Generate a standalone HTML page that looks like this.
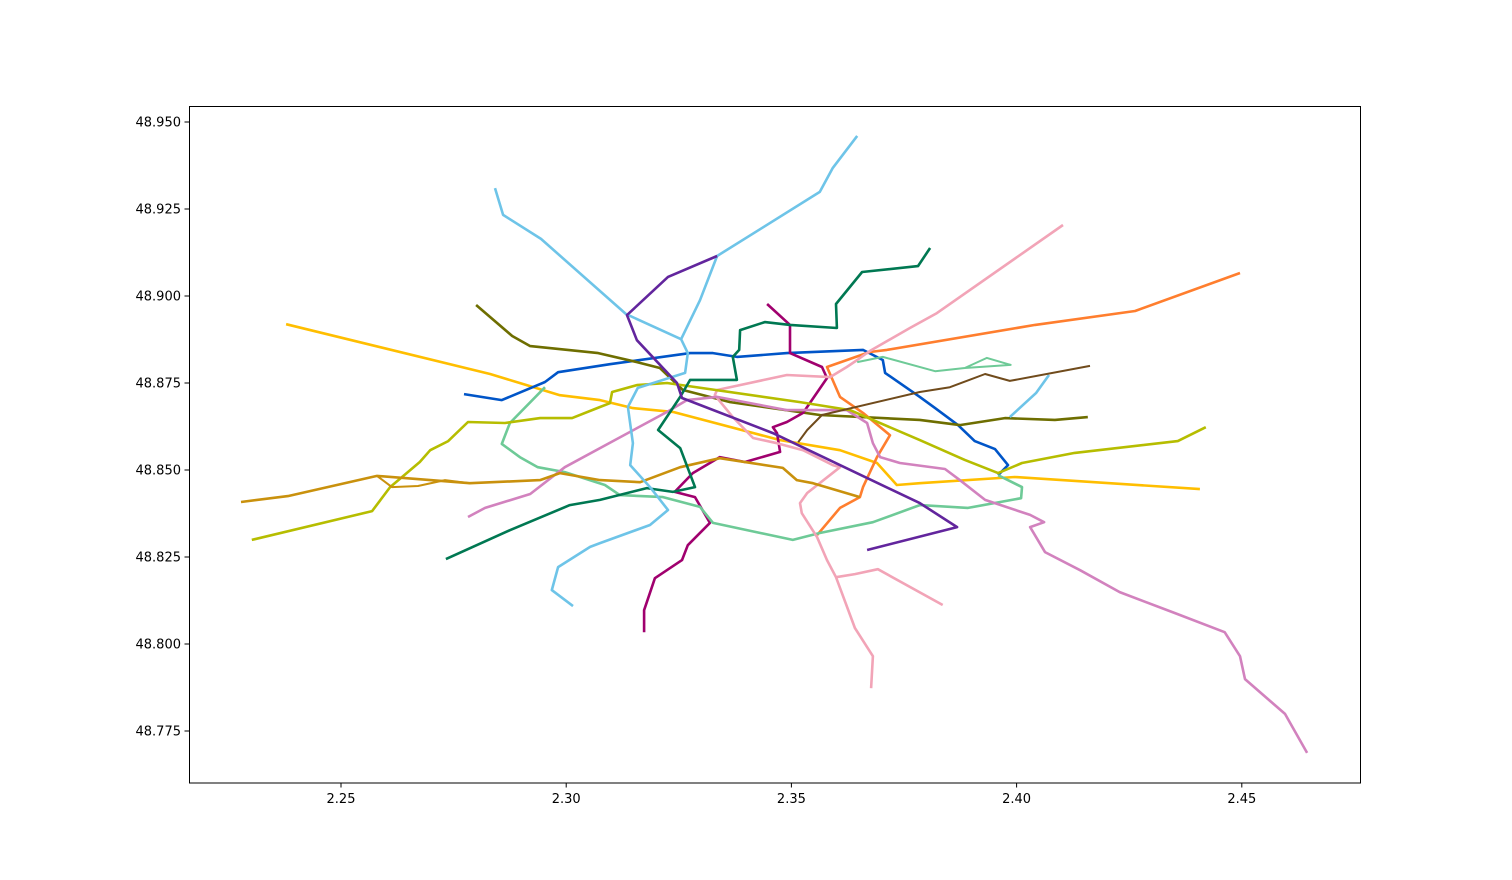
<!DOCTYPE html>
<html><head><meta charset="utf-8"><style>
html,body{margin:0;padding:0;background:#fff;}
svg{display:block;font-family:"DejaVu Sans","Liberation Sans",sans-serif;}
</style></head><body>
<svg id="chart" width="1512" height="880" viewBox="0 0 1512 880" xmlns="http://www.w3.org/2000/svg">
<rect x="0" y="0" width="1512" height="880" fill="#fff"/>
<g id="lines"></g>
<rect x="189.5" y="106.5" width="1171" height="676.5" fill="none" stroke="#000" stroke-width="1"/>
<g id="xaxis"></g>
<g id="yaxis"></g>
</svg>
<script>
const xTicks = [2.25, 2.30, 2.35, 2.40, 2.45];
const xTickLabels = ["2.25", "2.30", "2.35", "2.40", "2.45"];
const yTicks = [48.775, 48.800, 48.825, 48.850, 48.875, 48.900, 48.925, 48.950];
const yTickLabels = ["48.775", "48.800", "48.825", "48.850", "48.875", "48.900", "48.925", "48.950"];

const line1Lon = [2.2378,2.2831,2.2986,2.3075,2.3148,2.3237,2.3475,2.3608,2.3690,2.3734,2.3785,2.3996,2.4407];
const line1Lat = [48.8919,48.8776,48.8715,48.8701,48.8678,48.8667,48.8586,48.8557,48.8520,48.8457,48.8462,48.8480,48.8445];
const line2Lon = [2.2773,2.2857,2.2953,2.2982,2.3097,2.3275,2.3326,2.3379,2.3490,2.3659,2.3703,2.3708,2.3785,2.3819,2.3870,2.3907,2.3952,2.3981,2.3959];
const line2Lat = [48.8718,48.8701,48.8753,48.8781,48.8804,48.8836,48.8836,48.8825,48.8836,48.8845,48.8816,48.8779,48.8710,48.8678,48.8629,48.8583,48.8560,48.8514,48.8485];
const line3Lon = [2.2800,2.2880,2.2920,2.3071,2.3157,2.3208,2.3259,2.3364,2.3563,2.3785,2.3874,2.3974,2.4085,2.4158];
const line3Lat = [48.8974,48.8885,48.8856,48.8836,48.8810,48.8793,48.8730,48.8695,48.8658,48.8644,48.8629,48.8649,48.8644,48.8652];
const line3bisLon = [2.3985,2.4043,2.4072];
const line3bisLat = [48.8652,48.8721,48.8773];
const line4Lon = [2.3446,2.3497,2.3497,2.3568,2.3579,2.3526,2.3490,2.3459,2.3468,2.3475,2.3397,2.3341,2.3281,2.3241,2.3286,2.3319,2.3270,2.3257,2.3197,2.3173,2.3173];
const line4Lat = [48.8977,48.8917,48.8836,48.8796,48.8764,48.8664,48.8638,48.8623,48.8606,48.8552,48.8523,48.8537,48.8491,48.8437,48.8422,48.8348,48.8284,48.8241,48.8189,48.8097,48.8034];
const line5Lon = [2.4496,2.4263,2.4041,2.3712,2.3674,2.3579,2.3608,2.3659,2.3719,2.3690,2.3659,2.3652,2.3608,2.3557];
const line5Lat = [48.9066,48.8957,48.8917,48.8845,48.8839,48.8796,48.8710,48.8664,48.8600,48.8537,48.8451,48.8422,48.8391,48.8313];
const line6Lon = [2.2953,2.2875,2.2857,2.2897,2.2937,2.2997,2.3086,2.3119,2.3215,2.3297,2.3326,2.3503,2.3563,2.3681,2.3785,2.3892,2.4010,2.4012,2.3959];
const line6Lat = [48.8738,48.8635,48.8575,48.8537,48.8508,48.8494,48.8457,48.8428,48.8422,48.8394,48.8348,48.8299,48.8319,48.8350,48.8399,48.8391,48.8419,48.8451,48.8485];
const line7Lon = [2.4103,2.3823,2.3763,2.3674,2.3646,2.3623,2.3586,2.3490,2.3335,2.3330,2.3370,2.3415,2.3468,2.3526,2.3592,2.3608,2.3535,2.3519,2.3523,2.3557,2.3579,2.3599,2.3641,2.3681,2.3677];
const line7Lat = [48.9204,48.8951,48.8908,48.8842,48.8816,48.8796,48.8767,48.8773,48.8730,48.8715,48.8652,48.8592,48.8577,48.8557,48.8514,48.8508,48.8434,48.8405,48.8376,48.8307,48.8241,48.8192,48.8046,48.7965,48.7873];
const line7bLon = [2.3599,2.3641,2.3692,2.3836];
const line7bLat = [48.8192,48.8201,48.8215,48.8112];
const line7bisLon = [2.3646,2.3703,2.3819,2.3885,2.3934,2.3987,2.3885];
const line7bisLat = [48.8810,48.8825,48.8784,48.8793,48.8822,48.8802,48.8793];
const line8Lon = [2.2782,2.2820,2.2920,2.2997,2.3108,2.3224,2.3268,2.3335,2.3490,2.3623,2.3668,2.3681,2.3697,2.3741,2.3841,2.3874,2.3930,2.4030,2.4061,2.4030,2.4063,2.4141,2.4229,2.4351,2.4462,2.4496,2.4507,2.4596,2.4645];
const line8Lat = [48.8365,48.8391,48.8431,48.8508,48.8586,48.8667,48.8701,48.8710,48.8672,48.8672,48.8635,48.8577,48.8537,48.8520,48.8503,48.8471,48.8414,48.8371,48.8350,48.8336,48.8264,48.8212,48.8149,48.8089,48.8034,48.7965,48.7899,48.7799,48.7687];
const line9Lon = [2.2302,2.2569,2.2609,2.2675,2.2698,2.2738,2.2782,2.2864,2.2942,2.3013,2.3075,2.3097,2.3102,2.3157,2.3224,2.3519,2.3630,2.3785,2.3885,2.3959,2.4012,2.4129,2.4358,2.4420];
const line9Lat = [48.8299,48.8382,48.8451,48.8523,48.8557,48.8583,48.8638,48.8635,48.8649,48.8649,48.8681,48.8692,48.8724,48.8744,48.8750,48.8695,48.8672,48.8586,48.8529,48.8491,48.8520,48.8549,48.8583,48.8623];
const line10Lon = [2.2278,2.2382,2.2580,2.2698,2.2786,2.2942,2.2986,2.3075,2.3164,2.3253,2.3341,2.3481,2.3512,2.3548,2.3652];
const line10Lat = [48.8408,48.8425,48.8483,48.8471,48.8462,48.8471,48.8491,48.8471,48.8465,48.8508,48.8534,48.8506,48.8471,48.8462,48.8422];
const line10bLon = [2.2580,2.2613,2.2671,2.2731,2.2786];
const line10bLat = [48.8483,48.8451,48.8454,48.8471,48.8462];
const line11Lon = [2.4163,2.3985,2.3930,2.3852,2.3785,2.3568,2.3535,2.3515];
const line11Lat = [48.8799,48.8756,48.8776,48.8738,48.8724,48.8658,48.8615,48.8580];
const line12Lon = [2.3808,2.3781,2.3657,2.3599,2.3601,2.3497,2.3441,2.3386,2.3384,2.3370,2.3379,2.3275,2.3253,2.3204,2.3253,2.3286,2.3237,2.3179,2.3075,2.3008,2.2875,2.2733];
const line12Lat = [48.9138,48.9086,48.9069,48.8977,48.8908,48.8917,48.8925,48.8902,48.8845,48.8825,48.8759,48.8759,48.8710,48.8615,48.8563,48.8451,48.8437,48.8448,48.8414,48.8399,48.8327,48.8244];
const line13Lon = [2.2842,2.2860,2.2944,2.3133,2.3255,2.3270,2.3264,2.3159,2.3137,2.3148,2.3142,2.3186,2.3226,2.3186,2.3075,2.3053,2.2982,2.2968,2.3015];
const line13Lat = [48.9310,48.9233,48.9164,48.8948,48.8876,48.8836,48.8779,48.8736,48.8681,48.8577,48.8514,48.8451,48.8385,48.8342,48.8290,48.8279,48.8221,48.8155,48.8109];
const line13bLon = [2.3646,2.3592,2.3563,2.3335,2.3297,2.3255];
const line13bLat = [48.9460,48.9368,48.9299,48.9115,48.8988,48.8876];
const line14Lon = [2.3335,2.3226,2.3135,2.3157,2.3246,2.3257,2.3459,2.3785,2.3868,2.3668];
const line14Lat = [48.9115,48.9055,48.8945,48.8873,48.8750,48.8707,48.8606,48.8405,48.8336,48.8270];

const X0 = 341, XS = 4504, Y0 = 122, YS = 3480;
function xPos(lon){ return X0 + (lon - 2.25) * XS; }
function yPos(lat){ return Y0 + (48.95 - lat) * YS; }
const NS = "http://www.w3.org/2000/svg";

const linesG = document.getElementById('lines');
function drawLine(name, lons, lats, color, w){
  const p = document.createElementNS(NS, 'polyline');
  p.setAttribute('points', lons.map((v,i)=> xPos(v).toFixed(1)+','+yPos(lats[i]).toFixed(1)).join(' '));
  p.setAttribute('fill','none');
  p.setAttribute('stroke', color);
  p.setAttribute('stroke-width', w || 2.6);
  p.setAttribute('stroke-linejoin','round');
  
  
  linesG.appendChild(p);
}
drawLine('metro-line-1', line1Lon, line1Lat, '#FFBE00');
drawLine('metro-line-2', line2Lon, line2Lat, '#0055C8');
drawLine('metro-line-3', line3Lon, line3Lat, '#6E6E00');
drawLine('metro-line-3bis', line3bisLon, line3bisLat, '#6EC4E8');
drawLine('metro-line-4', line4Lon, line4Lat, '#A0006E');
drawLine('metro-line-5', line5Lon, line5Lat, '#FF7E2E');
drawLine('metro-line-6', line6Lon, line6Lat, '#6ECA97');
drawLine('metro-line-7', line7Lon, line7Lat, '#F2A4B7');
drawLine('metro-line-7-ivry', line7bLon, line7bLat, '#F2A4B7');
drawLine('metro-line-7bis', line7bisLon, line7bisLat, '#6ECA97', 2);
drawLine('metro-line-8', line8Lon, line8Lat, '#D282BE');
drawLine('metro-line-9', line9Lon, line9Lat, '#B6BD00');
drawLine('metro-line-10', line10Lon, line10Lat, '#C9910D');
drawLine('metro-line-10-loop', line10bLon, line10bLat, '#C9910D', 2);
drawLine('metro-line-11', line11Lon, line11Lat, '#704B1C', 2);
drawLine('metro-line-12', line12Lon, line12Lat, '#007852');
drawLine('metro-line-13', line13Lon, line13Lat, '#6EC4E8');
drawLine('metro-line-13-branch', line13bLon, line13bLat, '#6EC4E8');
drawLine('metro-line-14', line14Lon, line14Lat, '#62259D');

const xg = document.getElementById('xaxis');
xTicks.forEach((v,i)=>{
  const x = xPos(v);
  const t = document.createElementNS(NS,'line');
  t.setAttribute('x1',x); t.setAttribute('x2',x); t.setAttribute('y1',783); t.setAttribute('y2',787.5);
  t.setAttribute('stroke','#000');
  
  
  xg.appendChild(t);
  const l = document.createElementNS(NS,'text');
  l.setAttribute('x',x); l.setAttribute('y',803); l.setAttribute('text-anchor','middle');
  l.setAttribute('font-size','13'); l.textContent = xTickLabels[i];
  
  
  xg.appendChild(l);
});
const yg = document.getElementById('yaxis');
yTicks.forEach((v,i)=>{
  const y = yPos(v);
  const t = document.createElementNS(NS,'line');
  t.setAttribute('x1',184.5); t.setAttribute('x2',189.5); t.setAttribute('y1',y); t.setAttribute('y2',y);
  t.setAttribute('stroke','#000');
  
  
  yg.appendChild(t);
  const l = document.createElementNS(NS,'text');
  l.setAttribute('x',181); l.setAttribute('y',y+4.5); l.setAttribute('text-anchor','end');
  l.setAttribute('font-size','13'); l.textContent = yTickLabels[i];
  
  
  yg.appendChild(l);
});
</script>
</body></html>
